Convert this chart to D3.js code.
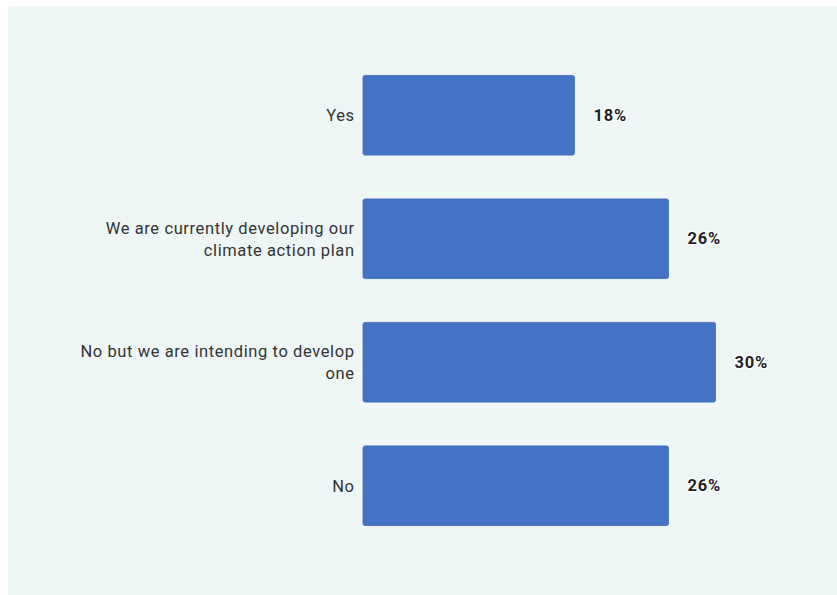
<!DOCTYPE html>
<html>
<head>
<meta charset="utf-8">
<script src="https://cdn.jsdelivr.net/npm/d3@7"></script>
<style>
  html, body { margin: 0; padding: 0; background: #ffffff; }
  svg { display: block; }
  text { font-family: Roboto, "Noto Sans", sans-serif; }
</style>
</head>
<body>
<div id="chart"></div>
<script>
// Survey answers: does the organisation have a climate action plan?
const categories = [
  ["Yes"],
  ["We are currently developing our", "climate action plan"],
  ["No but we are intending to develop", "one"],
  ["No"]
];
const values = [18, 26, 30, 26];
const valueLabels = ["18%", "26%", "30%", "26%"];

const W = 837, H = 595;
const panel = { x: 8, y: 6, w: 829, h: 589 };
const plot = { left: 363, right: 833, top: 52, bottom: 549 };

const svg = d3.select("#chart").append("svg")
  .attr("width", W).attr("height", H);

svg.append("rect")
  .attr("x", panel.x).attr("y", panel.y)
  .attr("width", panel.w).attr("height", panel.h)
  .attr("fill", "#eef7f6");

const idx = d3.range(values.length);

const x = d3.scaleLinear().domain([0, 40]).range([plot.left, plot.right]);
const y = d3.scaleBand().domain(idx).range([plot.top, plot.bottom]).paddingInner(0.355).paddingOuter(0.19);

// Bars
svg.append("g").selectAll("rect")
  .data(idx)
  .join("rect")
  .attr("x", x(0))
  .attr("y", i => y(i))
  .attr("width", i => x(values[i]) - x(0))
  .attr("height", y.bandwidth())
  .attr("rx", 2)
  .attr("fill", "#4472c4")
  .attr("stroke", "#3f68b4")
  .attr("stroke-width", 0.8);

// Category labels (right-aligned, wrapped); x nudged to offset trailing letter-spacing
const lineH = 22;
const labelX = x(0) - 8.4;
const cat = svg.append("g").selectAll("text")
  .data(idx)
  .join("text")
  .attr("text-anchor", "end")
  .attr("font-size", 16.5)
  .attr("letter-spacing", 0.6)
  .attr("fill", "#333333")
  .attr("x", labelX)
  .attr("y", i => y(i) + y.bandwidth() / 2 - (categories[i].length - 1) * lineH / 2)
  .attr("dominant-baseline", "central");
cat.each(function(i) {
  const t = d3.select(this);
  categories[i].forEach((line, k) => {
    t.append("tspan")
      .attr("x", labelX)
      .attr("dy", k === 0 ? 0 : lineH)
      .text(line);
  });
});

// Value labels with halo
svg.append("g").selectAll("text")
  .data(idx)
  .join("text")
  .attr("x", i => x(values[i]) + 19)
  .attr("y", i => y(i) + y.bandwidth() / 2)
  .attr("dominant-baseline", "central")
  .attr("font-size", 16.5)
  .attr("letter-spacing", 0.8)
  .attr("font-weight", "bold")
  .attr("fill", "#222222")
  .attr("stroke", "#ffffff")
  .attr("stroke-width", 2.5)
  .attr("stroke-linejoin", "round")
  .attr("paint-order", "stroke")
  .text(i => valueLabels[i]);
</script>
</body>
</html>
